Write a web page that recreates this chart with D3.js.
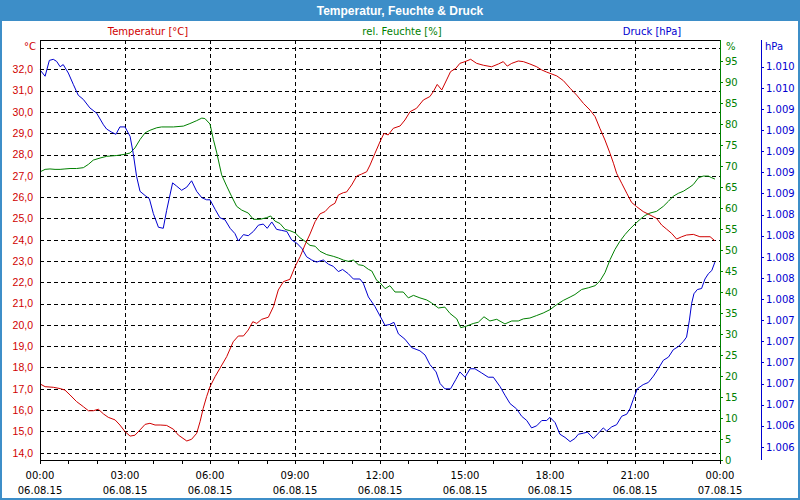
<!DOCTYPE html>
<html><head><meta charset="utf-8">
<script src="https://cdn.jsdelivr.net/npm/d3@7/dist/d3.min.js"></script>
<style>
html,body{margin:0;padding:0;background:#fff;}
svg{display:block;}
text{font-family:"DejaVu Sans",sans-serif;}
</style></head><body>
<svg id="c" width="800" height="500"></svg>
<script>
const chartTitle = "Temperatur, Feuchte & Druck";
const seriesLabels = ["Temperatur [°C]", "rel. Feuchte [%]", "Druck [hPa]"];
const unitLabels = ["°C", "%", "hPa"];
const tempTicks = [14,15,16,17,18,19,20,21,22,23,24,25,26,27,28,29,30,31,32];
const gridTemps = [14,15,16,17,18,19,20,21,22,23,24,25,26,27,28,29,30,31,32,33];
const humTicks = [0,5,10,15,20,25,30,35,40,45,50,55,60,65,70,75,80,85,90,95];
const presTicks = [1009.8,1009.6,1009.4,1009.2,1009.0,1008.8,1008.6,1008.4,1008.2,1008.0,1007.8,1007.6,1007.4,1007.2,1007.0,1006.8,1006.6,1006.4,1006.2];
const hourTicks = [0,3,6,9,12,15,18,21,24];
const timeLabels = ["00:00","03:00","06:00","09:00","12:00","15:00","18:00","21:00","00:00"];
const dateLabels = ["06.08.15","06.08.15","06.08.15","06.08.15","06.08.15","06.08.15","06.08.15","06.08.15","07.08.15"];

// [hour since 06.08.15 00:00, value]
const temperature = [[0.00,17.23],[0.18,17.10],[0.47,17.07],[0.71,17.01],[0.88,16.94],[1.06,16.71],[1.29,16.40],[1.53,16.16],[1.71,15.97],[1.88,15.97],[2.06,16.04],[2.24,15.82],[2.41,15.66],[2.65,15.54],[2.82,15.30],[3.00,14.99],[3.18,14.78],[3.35,14.82],[3.53,15.07],[3.71,15.33],[3.88,15.38],[4.06,15.30],[4.24,15.30],[4.47,15.28],[4.71,15.10],[4.88,14.83],[5.18,14.55],[5.35,14.63],[5.53,14.91],[5.65,15.46],[5.76,16.08],[5.88,16.63],[6.00,17.10],[6.18,17.57],[6.35,17.96],[6.59,18.51],[6.82,19.21],[7.00,19.48],[7.18,19.48],[7.35,19.76],[7.51,20.15],[7.65,20.07],[7.82,20.26],[8.06,20.36],[8.24,20.86],[8.41,21.64],[8.59,22.03],[8.82,22.14],[9.00,22.73],[9.18,23.20],[9.35,23.75],[9.53,24.27],[9.71,24.85],[9.88,25.21],[10.06,25.32],[10.24,25.58],[10.41,25.71],[10.53,26.10],[10.71,26.21],[10.82,26.24],[11.00,26.57],[11.18,26.99],[11.35,27.08],[11.53,27.19],[11.65,27.51],[11.82,28.05],[12.00,28.60],[12.14,28.99],[12.29,28.92],[12.47,29.23],[12.71,29.34],[12.88,29.62],[13.06,30.01],[13.29,30.17],[13.53,30.56],[13.76,30.72],[13.88,30.95],[14.02,31.29],[14.18,31.03],[14.35,31.50],[14.49,31.89],[14.68,32.05],[14.82,32.28],[15.00,32.36],[15.20,32.47],[15.41,32.28],[15.65,32.19],[15.94,32.12],[16.18,32.25],[16.35,32.36],[16.49,32.15],[16.65,32.28],[16.88,32.39],[17.06,32.36],[17.29,32.25],[17.53,32.12],[17.71,31.97],[17.88,31.87],[18.00,31.81],[18.24,31.69],[18.47,31.47],[18.71,31.11],[18.94,30.79],[19.18,30.40],[19.41,30.09],[19.59,29.78],[19.76,29.23],[19.94,28.68],[20.12,28.05],[20.24,27.59],[20.35,27.12],[20.53,26.65],[20.71,26.18],[20.88,25.75],[21.06,25.55],[21.29,25.32],[21.53,25.16],[21.76,25.00],[21.94,24.69],[22.12,24.49],[22.29,24.30],[22.47,24.03],[22.65,24.14],[22.82,24.22],[23.06,24.25],[23.29,24.14],[23.47,24.14],[23.65,24.14],[23.82,23.95]];

const humidity = [[0.00,68.6],[0.18,69.2],[0.35,69.3],[0.53,69.2],[0.71,69.2],[0.88,69.3],[1.06,69.4],[1.29,69.4],[1.53,69.6],[1.71,70.4],[1.88,71.4],[2.12,71.9],[2.35,72.3],[2.71,72.5],[3.00,72.8],[3.18,73.1],[3.35,74.3],[3.53,76.3],[3.71,77.9],[3.88,78.5],[4.12,79.1],[4.29,79.3],[4.71,79.3],[5.06,79.5],[5.29,80.1],[5.53,80.8],[5.71,81.4],[5.82,81.3],[6.00,80.0],[6.12,76.3],[6.24,73.1],[6.41,67.9],[6.59,65.2],[6.76,62.8],[6.94,60.4],[7.12,59.5],[7.35,58.8],[7.53,57.3],[7.76,57.3],[8.00,57.7],[8.14,58.1],[8.29,56.9],[8.47,56.3],[8.65,54.9],[8.82,54.6],[9.00,54.1],[9.18,52.9],[9.35,52.1],[9.53,51.1],[9.71,50.9],[9.88,49.7],[10.12,48.9],[10.35,48.5],[10.53,48.1],[10.71,47.6],[10.88,47.3],[11.06,47.6],[11.24,46.5],[11.41,46.3],[11.59,45.4],[11.71,45.0],[11.88,42.8],[12.00,42.2],[12.18,40.8],[12.35,41.5],[12.53,40.0],[12.82,40.0],[13.00,38.6],[13.18,39.2],[13.41,38.6],[13.65,38.1],[13.82,37.4],[14.06,36.2],[14.29,36.4],[14.47,34.9],[14.71,33.6],[14.85,31.5],[15.06,31.9],[15.29,32.5],[15.47,32.8],[15.67,34.1],[15.88,33.1],[16.12,33.5],[16.41,32.4],[16.65,33.1],[16.88,33.1],[17.06,33.6],[17.29,33.8],[17.53,34.4],[17.76,35.0],[18.00,35.8],[18.24,37.0],[18.47,38.0],[18.71,38.8],[18.88,39.4],[19.12,40.6],[19.35,41.0],[19.59,41.5],[19.76,42.6],[19.94,44.6],[20.12,47.7],[20.29,50.1],[20.47,52.1],[20.65,53.7],[20.82,55.0],[21.00,56.2],[21.18,57.3],[21.35,58.2],[21.53,58.8],[21.76,59.2],[22.00,60.4],[22.18,61.6],[22.35,62.8],[22.53,63.5],[22.71,64.0],[22.94,65.0],[23.06,65.6],[23.24,67.2],[23.41,67.6],[23.59,67.6],[23.71,67.2],[23.82,66.9]];

const pressure = [[0.00,1009.77],[0.18,1009.71],[0.33,1009.86],[0.47,1009.87],[0.59,1009.85],[0.71,1009.80],[0.82,1009.82],[1.00,1009.74],[1.18,1009.63],[1.35,1009.53],[1.53,1009.49],[1.76,1009.41],[2.00,1009.36],[2.24,1009.25],[2.35,1009.21],[2.53,1009.18],[2.68,1009.16],[2.82,1009.23],[3.00,1009.23],[3.18,1009.14],[3.29,1008.98],[3.41,1008.76],[3.53,1008.62],[3.71,1008.58],[3.86,1008.55],[4.00,1008.41],[4.18,1008.28],[4.35,1008.27],[4.47,1008.44],[4.68,1008.70],[4.82,1008.67],[5.00,1008.63],[5.18,1008.66],[5.35,1008.72],[5.53,1008.62],[5.71,1008.56],[5.88,1008.54],[6.00,1008.54],[6.18,1008.45],[6.35,1008.37],[6.53,1008.35],[6.71,1008.27],[6.88,1008.22],[7.00,1008.15],[7.18,1008.21],[7.35,1008.20],[7.53,1008.24],[7.71,1008.30],[7.88,1008.31],[8.02,1008.27],[8.18,1008.33],[8.35,1008.26],[8.53,1008.25],[8.71,1008.24],[8.88,1008.16],[9.06,1008.13],[9.24,1008.08],[9.41,1008.00],[9.59,1007.97],[9.76,1007.95],[10.00,1007.97],[10.18,1007.93],[10.35,1007.91],[10.53,1007.86],[10.68,1007.88],[10.88,1007.84],[11.06,1007.79],[11.29,1007.79],[11.41,1007.75],[11.59,1007.62],[11.82,1007.53],[12.00,1007.44],[12.18,1007.35],[12.35,1007.36],[12.49,1007.38],[12.65,1007.27],[12.88,1007.22],[13.12,1007.14],[13.41,1007.11],[13.59,1007.07],[13.76,1006.98],[13.98,1006.91],[14.12,1006.80],[14.29,1006.75],[14.49,1006.75],[14.68,1006.84],[14.82,1006.91],[15.00,1006.86],[15.18,1006.94],[15.35,1006.94],[15.59,1006.90],[15.82,1006.86],[16.00,1006.86],[16.24,1006.77],[16.41,1006.69],[16.59,1006.61],[16.82,1006.56],[17.00,1006.49],[17.18,1006.45],[17.35,1006.38],[17.53,1006.40],[17.71,1006.45],[17.88,1006.45],[18.00,1006.48],[18.18,1006.43],[18.35,1006.32],[18.53,1006.29],[18.71,1006.25],[18.88,1006.28],[19.00,1006.32],[19.18,1006.33],[19.32,1006.34],[19.53,1006.28],[19.71,1006.33],[19.88,1006.38],[20.00,1006.35],[20.18,1006.39],[20.35,1006.41],[20.53,1006.49],[20.71,1006.51],[20.82,1006.56],[20.94,1006.65],[21.08,1006.75],[21.29,1006.79],[21.47,1006.81],[21.65,1006.87],[21.82,1006.94],[22.00,1007.02],[22.18,1007.05],[22.35,1007.12],[22.53,1007.15],[22.71,1007.20],[22.82,1007.24],[22.92,1007.40],[23.00,1007.56],[23.08,1007.65],[23.20,1007.69],[23.35,1007.70],[23.47,1007.79],[23.59,1007.84],[23.71,1007.87],[23.82,1007.95]];

const RED = "#d00000", GREEN = "#008000", BLUE = "#0000d0", FRAME = "#3d8ec8";

const svg = d3.select("#c");
const start = new Date(2015, 7, 6, 0, 0);
const toDate = h => new Date(start.getTime() + h * 3600000);

const L = 40, R = 720, T = 40, B = 460, PX = 761;
const x = d3.scaleTime().domain([start, toDate(24)]).range([L, R]);
const yT = d3.scaleLinear().domain([13.657, 33.376]).range([B, T]);
const yH = d3.scaleLinear().domain([0, 100]).range([B, T]);
const yP = d3.scaleLinear().domain([1006.076, 1010.053]).range([B, T]);
const snap = v => Math.round(v) + 0.5;

// background & title bar
svg.append("rect").attr("x",0).attr("y",0).attr("width",800).attr("height",500).attr("fill","#fff");
svg.append("rect").attr("x",0).attr("y",0).attr("width",800).attr("height",21).attr("fill",FRAME);
svg.append("rect").attr("x",1).attr("y",1).attr("width",798).attr("height",498)
  .attr("fill","none").attr("stroke",FRAME).attr("stroke-width",2);
svg.append("text").attr("x",400).attr("y",14.5).attr("text-anchor","middle")
  .attr("fill","#fff").style("font-family","'Liberation Sans',Arial,sans-serif")
  .style("font-weight","bold").style("font-size","12px").text(chartTitle);

// series labels
const labelX = [148, 402, 652], labelC = [RED, GREEN, BLUE];
seriesLabels.forEach((s,i)=>{
  svg.append("text").attr("x",labelX[i]).attr("y",35).attr("text-anchor","middle")
    .attr("fill",labelC[i]).style("font-size","10px").text(s);
});

// grid
const grid = svg.append("g").attr("shape-rendering","crispEdges")
  .attr("stroke","#000").attr("stroke-dasharray","4,3").attr("stroke-width",1);
gridTemps.forEach(v=>{
  grid.append("line").attr("x1",L).attr("x2",R).attr("y1",snap(yT(v))).attr("y2",snap(yT(v)));
});
hourTicks.slice(1,-1).forEach(h=>{
  grid.append("line").attr("y1",T).attr("y2",B).attr("x1",snap(x(toDate(h)))).attr("x2",snap(x(toDate(h))));
});

// series lines
const mk = (y) => d3.line().x(d=>x(toDate(d[0]))).y(d=>y(d[1]));
const lines = svg.append("g").attr("fill","none").attr("stroke-width",1);
lines.append("path").datum(humidity).attr("d",mk(yH)).attr("stroke",GREEN);
lines.append("path").datum(pressure).attr("d",mk(yP)).attr("stroke",BLUE);
lines.append("path").datum(temperature).attr("d",mk(yT)).attr("stroke",RED);

// frame lines
const fr = svg.append("g").attr("shape-rendering","crispEdges").attr("stroke-width",1);
fr.append("line").attr("x1",L).attr("x2",R+1).attr("y1",T+0.5).attr("y2",T+0.5).attr("stroke","#000");
fr.append("line").attr("x1",L+0.5).attr("x2",L+0.5).attr("y1",T).attr("y2",B+1).attr("stroke","#000");
fr.append("line").attr("x1",L).attr("x2",R).attr("y1",B+0.5).attr("y2",B+0.5).attr("stroke","#000");
fr.append("line").attr("x1",R+0.5).attr("x2",R+0.5).attr("y1",T).attr("y2",B+1).attr("stroke",GREEN);
fr.append("line").attr("x1",PX+0.5).attr("x2",PX+0.5).attr("y1",T).attr("y2",B).attr("stroke",BLUE);

// left temperature axis
const fmtT = d => d3.format(".1f")(d).replace(".", ",");
const axT = svg.append("g").attr("transform",`translate(${L},0)`)
  .call(d3.axisLeft(yT).tickValues(tempTicks).tickSize(0).tickPadding(7).tickFormat(fmtT));
axT.select(".domain").remove();
axT.selectAll("text").attr("fill",RED).style("font-family","'Liberation Sans',Arial,sans-serif").style("font-size","10.5px");
svg.append("text").attr("x",L-4).attr("y",yT(33)+2).attr("text-anchor","end")
  .attr("fill",RED).style("font-size","10px").text(unitLabels[0]);

// right humidity axis
const axH = svg.append("g").attr("transform",`translate(${R},0)`)
  .call(d3.axisRight(yH).tickValues(humTicks).tickSize(3).tickPadding(2).tickFormat(d3.format("d")));
axH.select(".domain").remove();
axH.selectAll("line").attr("stroke",GREEN).attr("shape-rendering","crispEdges");
axH.selectAll("text").attr("fill",GREEN).style("font-size","10px");
svg.append("text").attr("x",R+6).attr("y",yH(100)+10).attr("fill",GREEN)
  .style("font-size","10px").text(unitLabels[1]);

// pressure axis
const fmtP = d => (Math.round(d)/1000).toFixed(3);
const axP = svg.append("g").attr("transform",`translate(${PX},0)`)
  .call(d3.axisRight(yP).tickValues(presTicks).tickSize(3).tickPadding(2).tickFormat(fmtP));
axP.select(".domain").remove();
axP.selectAll("line").attr("stroke",BLUE).attr("shape-rendering","crispEdges");
axP.selectAll("text").attr("fill",BLUE).style("font-size","10px");
svg.append("text").attr("x",PX+4).attr("y",yH(100)+10).attr("fill",BLUE)
  .style("font-size","10px").text(unitLabels[2]);

// bottom time axis
const axX = svg.append("g").attr("transform",`translate(0,${B})`)
  .call(d3.axisBottom(x).ticks(d3.timeHour.every(1)).tickSize(4).tickFormat(""));
axX.select(".domain").remove();
axX.selectAll("line").attr("stroke","#000").attr("shape-rendering","crispEdges");
const xl = svg.append("g").style("font-size","10px").attr("fill","#000");
hourTicks.forEach((h,i)=>{
  const t = xl.append("text").attr("text-anchor","middle").attr("x",x(toDate(h)));
  t.append("tspan").attr("x",x(toDate(h))).attr("y",479).text(timeLabels[i]);
  t.append("tspan").attr("x",x(toDate(h))).attr("y",494).text(dateLabels[i]);
});
</script>
</body></html>
